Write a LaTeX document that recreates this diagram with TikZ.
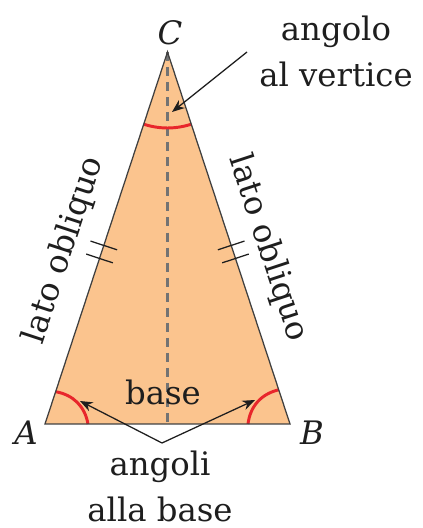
\documentclass[tikz,border=0pt]{standalone}
\usepackage{fontspec}
\setmainfont{DejaVu Serif}
\usepackage{xcolor}
\usetikzlibrary{calc,arrows.meta}
\definecolor{peach}{HTML}{FBC48E}
\definecolor{arcred}{HTML}{E8262B}
\definecolor{ink}{HTML}{1E1E1E}
\tikzset{
  lbl/.style={text=ink,font=\fontsize{23}{33}\selectfont,align=center,inner sep=0pt},
  pointer/.style={draw=ink,line width=0.9pt,-{Stealth[length=9pt,width=7pt]}},
  anglemark/.style={draw=arcred,line width=2.1pt},
  eqmark/.style={draw=ink,line width=0.9pt}
}

\begin{document}
\begin{tikzpicture}
      \useasboundingbox (-1.125,-2.6) rectangle (9.425,10.6);
      \coordinate (A) at (0,0);
      \coordinate (B) at (6.125,0);
      \coordinate (C) at (3.0625,9.3);
      \coordinate (H) at (3.0625,0);
      \fill [peach] (A) -- (B) -- (C) -- cycle;
      \draw [gray!90!black,line width=1.8pt,dash pattern=on 6.4pt off 4.3pt] (C) -- (H);
      \draw [anglemark] (C) ++(251.77:1.9) arc [start angle=251.77,end angle=288.23,radius=1.9];
      \draw [anglemark] ($(A)+(1.075,0)$) to [bend right=35] ($(A)!0.85cm!(C)$);
      \draw [anglemark] ($(B)-(1.05,0)$) to [bend left=35] ($(B)!0.9cm!(C)$);
      \draw [ink!85,line width=0.9pt] (A) -- (B) -- (C) -- cycle;
      \foreach \t in {0.445,0.48}{
        \draw [eqmark] ($(A)!\t!(C)$) ++(161.77:0.35) -- ++(-18.23:0.7);
        \draw [eqmark] ($(B)!\t!(C)$) ++(18.23:0.35) -- ++(198.23:0.7);
      }
      \node [lbl] (Cl) at (3.125,9.78) {\itshape C};
      \node [lbl] (Al) at (-0.475,-0.225) {\itshape A};
      \node [lbl] (Bl) at (6.675,-0.225) {\itshape B};
      \node [lbl] (base) at (2.95,0.79) {base};
      \node [lbl,rotate=71.77] (lato1) at (0.475,4.35) {lato obliquo};
      \node [lbl,rotate=-71.77] (lato2) at (5.575,4.4) {lato obliquo};
      \node [lbl] (vert) at (7.275,9.31) {angolo\\al vertice};
      \node [lbl] (angb) at (2.875,-1.56) {angoli\\alla base};
      \coordinate (vstart) at (5.05,9.3);
      \coordinate (vtip) at (3.175,7.8);
      \coordinate (J) at (2.925,-0.475);
      \coordinate (tipA) at (0.875,0.575);
      \coordinate (tipB) at (5.25,0.6);
      \draw [pointer] (vstart) -- (vtip);
      \draw [pointer] (J) -- (tipA);
      \draw [pointer] (J) -- (tipB);
    \end{tikzpicture}
\end{document}
